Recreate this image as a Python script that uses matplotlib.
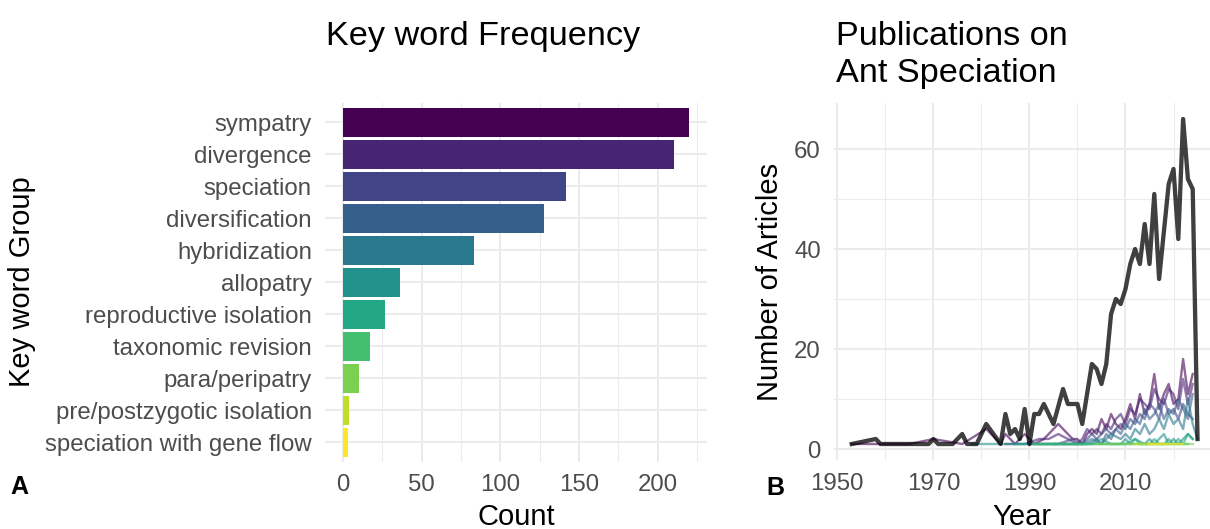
import numpy as np
import matplotlib.pyplot as plt

plt.rcParams['font.family'] = ['Liberation Sans', 'DejaVu Sans']

# panel A data
keywords = ["sympatry", "divergence", "speciation", "diversification", "hybridization",
            "allopatry", "reproductive isolation", "taxonomic revision", "para/peripatry",
            "pre/postzygotic isolation", "speciation with gene flow"]
counts = [220, 210, 142, 128, 83, 36, 27, 17, 10, 4, 3]
colors = ["#440154", "#482475", "#414487", "#355F8D", "#2A788E", "#21918C",
          "#22A884", "#44BF70", "#7AD151", "#BDDF26", "#FDE725"]

# panel B data: total articles per year
total_years = [1953, 1958, 1959, 1962, 1965, 1969, 1970, 1971, 1974, 1976, 1977, 1979,
               1981, 1984, 1985, 1986, 1987, 1988, 1989, 1990, 1991, 1992, 1993, 1995,
               1997, 1998, 1999, 2000, 2001, 2003, 2004, 2005, 2006, 2007, 2008, 2009,
               2010, 2011, 2012, 2013, 2014, 2015, 2016, 2017, 2019, 2020, 2021, 2022,
               2023, 2024, 2025]
total_counts = [1, 2, 1, 1, 1, 1, 2, 1, 1, 3, 1, 1,
                5, 1, 7, 3, 4, 2, 8, 1, 7, 7, 9, 5,
                12, 9, 9, 9, 5, 17, 16, 13, 17, 27, 30, 29,
                32, 37, 40, 37, 45, 37, 51, 34, 53, 56, 42, 66,
                54, 52, 2]

# panel B data: per keyword group (years, counts)
sympatry_years = [1953, 1958, 1965, 1970, 1976, 1981, 1984, 1985, 1987, 1989, 1991, 1993,
                  1996, 1998, 1999, 2000, 2001, 2002, 2003, 2004, 2005, 2006, 2007, 2008,
                  2009, 2010, 2011, 2012, 2013, 2014, 2015, 2016, 2017, 2018, 2019, 2020,
                  2021, 2022, 2023, 2024]
sympatry_counts = [1, 1, 1, 2, 1, 4, 1, 3, 1, 3, 1, 2,
                   5, 3, 2, 2, 1, 3, 4, 3, 6, 4, 7, 5,
                   4, 6, 9, 6, 11, 7, 9, 15, 8, 11, 13, 9,
                   10, 18, 11, 15]
divergence_years = [1985, 1989, 1992, 1994, 1996, 1998, 2000, 2001, 2002, 2003, 2004, 2005,
                    2006, 2007, 2008, 2009, 2010, 2011, 2012, 2013, 2014, 2015, 2016, 2017,
                    2018, 2019, 2020, 2021, 2022, 2023, 2024]
divergence_counts = [1, 1, 2, 2, 3, 2, 1, 2, 4, 3, 4, 3,
                     5, 4, 6, 7, 5, 8, 7, 10, 9, 8, 12, 10,
                     9, 12, 11, 8, 14, 9, 13]
speciation_years = [1990, 1993, 1996, 1999, 2001, 2002, 2003, 2004, 2005, 2006, 2007, 2008,
                    2009, 2010, 2011, 2012, 2013, 2014, 2015, 2016, 2017, 2018, 2019, 2020,
                    2021, 2022, 2023, 2024]
speciation_counts = [1, 1, 1, 2, 1, 2, 3, 2, 3, 4, 3, 4,
                     5, 4, 6, 5, 7, 6, 9, 8, 6, 10, 7, 8,
                     6, 9, 7, 6]
diversification_years = [1995, 1999, 2002, 2004, 2005, 2006, 2007, 2008, 2009, 2010, 2011, 2012,
                         2013, 2014, 2015, 2016, 2017, 2018, 2019, 2020, 2021, 2022, 2023, 2024]
diversification_counts = [1, 1, 1, 2, 1, 3, 2, 4, 3, 5, 4, 6,
                          5, 8, 6, 7, 9, 6, 8, 7, 10, 8, 6, 11]
hybridization_years = [1992, 1998, 2001, 2003, 2005, 2007, 2009, 2010, 2011, 2012, 2013, 2014,
                       2015, 2016, 2017, 2018, 2019, 2020, 2021, 2022, 2023, 2024, 2025]
hybridization_counts = [1, 1, 1, 2, 1, 3, 2, 3, 2, 4, 3, 5,
                        3, 4, 6, 4, 7, 5, 6, 4, 10, 5, 2]
allopatry_years = [1978, 1985, 1990, 1995, 1998, 2001, 2003, 2005, 2007, 2009, 2010, 2011,
                   2012, 2014, 2015, 2016, 2017, 2018, 2019, 2020, 2021, 2022, 2023, 2024]
allopatry_counts = [1, 1, 1, 1, 1, 1, 1, 2, 1, 1, 2, 1,
                    2, 1, 2, 1, 2, 3, 1, 2, 1, 2, 3, 2]
repro_years = [1987, 1993, 1999, 2003, 2006, 2008, 2010, 2012, 2013, 2014, 2015, 2016,
               2017, 2018, 2019, 2020, 2021, 2022, 2023, 2024]
repro_counts = [1, 1, 1, 1, 1, 1, 1, 2, 1, 1, 1, 2,
                1, 1, 2, 1, 2, 1, 3, 2]
taxonomic_years = [1991, 1994, 1997, 1999, 2001, 2003, 2005, 2006, 2008, 2010, 2012, 2013,
                   2015, 2017, 2019, 2021, 2023]
taxonomic_counts = [1] * 17
para_years = [2004, 2008, 2011, 2014, 2016, 2018, 2020, 2021, 2022, 2024]
para_counts = [1] * 10
prepost_years = [2012, 2014, 2016, 2018]
prepost_counts = [1, 1, 1, 1]
geneflow_years = [2015, 2019, 2022]
geneflow_counts = [1, 1, 1]

series = [(sympatry_years, sympatry_counts), (divergence_years, divergence_counts),
          (speciation_years, speciation_counts), (diversification_years, diversification_counts),
          (hybridization_years, hybridization_counts), (allopatry_years, allopatry_counts),
          (repro_years, repro_counts), (taxonomic_years, taxonomic_counts),
          (para_years, para_counts), (prepost_years, prepost_counts),
          (geneflow_years, geneflow_counts)]

W, H = 1210, 529
fig = plt.figure(figsize=(W / 100, H / 100), dpi=100)

grid_c = "#EBEBEB"
tick_c = "#4D4D4D"


def px(x0, y0, x1, y1):
    # pixel box -> figure fraction
    return [x0 / W, 1 - y1 / H, (x1 - x0) / W, (y1 - y0) / H]


def style(ax):
    for s in ax.spines.values():
        s.set_visible(False)
    ax.set_axisbelow(True)
    ax.grid(which="major", color=grid_c, lw=1.5)
    ax.grid(which="minor", color=grid_c, lw=0.75)
    ax.tick_params(which="both", length=0, labelsize=17.25, labelcolor=tick_c)
    ax.tick_params(axis="x", pad=9)
    ax.tick_params(axis="y", pad=9.5)


# ---- panel A ----
axA = fig.add_axes(px(325, 103, 706.6, 461.5))
ypos = np.arange(len(keywords))
axA.barh(ypos, counts, height=0.9, color=colors)
axA.set_ylim(len(keywords) - 0.4, -0.6)
axA.set_xlim(-11.4, 231)
axA.set_yticks(ypos)
axA.set_yticklabels(keywords)
axA.set_xticks([0, 50, 100, 150, 200])
axA.set_xticks([25, 75, 125, 175, 225], minor=True)
style(axA)
axA.grid(which="minor", axis="y", visible=False)

# ---- panel B ----
axB = fig.add_axes(px(834, 102.75, 1210, 460.25))
for (yrs, cnt), c in zip(series, colors):
    axB.plot(yrs, cnt, color=c, lw=1.7, alpha=0.6)
axB.plot(total_years, total_counts, color="black", lw=3.1, alpha=0.75)
axB.set_xlim(1949.3, 2027.6)
axB.set_ylim(-2.25, 69.25)
axB.set_xticks([1950, 1970, 1990, 2010])
axB.set_xticks([1960, 1980, 2000, 2020], minor=True)
axB.set_yticks([0, 20, 40, 60])
axB.set_yticks([10, 30, 50], minor=True)
style(axB)

# titles and labels
fig.text(326 / W, 1 - 45 / H, "Key word Frequency", fontsize=24.7, va="baseline", ha="left")
fig.text(836 / W, 1 - 45 / H, "Publications on", fontsize=24.7, va="baseline", ha="left")
fig.text(836 / W, 1 - 82 / H, "Ant Speciation", fontsize=24.7, va="baseline", ha="left")
fig.text(22 / W, 1 - 282 / H, "Key word Group", fontsize=21, rotation=90, va="center", ha="center")
fig.text(770 / W, 1 - 282 / H, "Number of Articles", fontsize=21, rotation=90, va="center", ha="center")
fig.text(516 / W, 1 - 517 / H, "Count", fontsize=21, va="center", ha="center")
fig.text(1022 / W, 1 - 517 / H, "Year", fontsize=21, va="center", ha="center")
fig.text(19 / W, 1 - 487 / H, "A", fontsize=18, fontweight="bold", va="center", ha="center")
fig.text(775 / W, 1 - 488 / H, "B", fontsize=18, fontweight="bold", va="center", ha="center")

fig.savefig("out.png", dpi=100)
